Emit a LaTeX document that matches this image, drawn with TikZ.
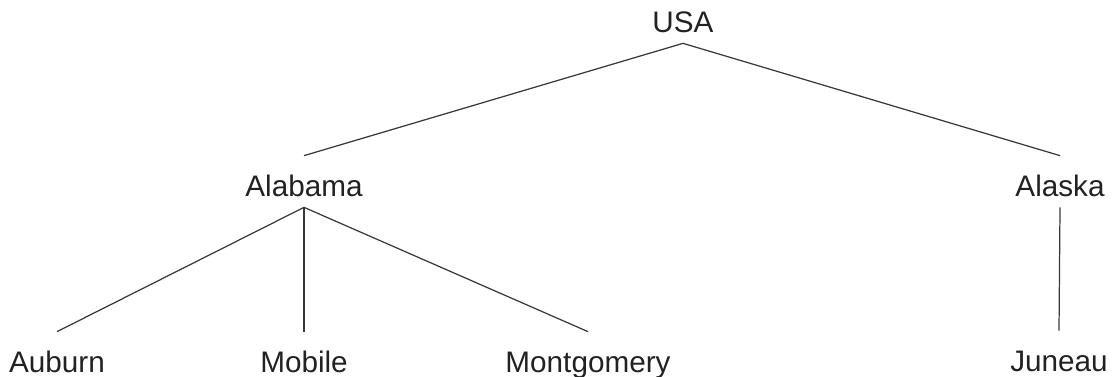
\documentclass[tikz,border=0pt]{standalone}
\usepackage{fontspec}
\setmainfont{Liberation Sans}
\usepackage{tikz}
\definecolor{ink}{HTML}{222222}

\begin{document}
\begin{tikzpicture}[x=0.02cm,y=-0.02cm,place/.style={inner sep=0pt,anchor=base,text height=0.82cm,text depth=0.2cm,font=\fontsize{16.9}{20}\selectfont,text=ink},edge/.style={draw=ink!90,line width=0.7pt}]
    \useasboundingbox (0,0) rectangle (1112,377);
    \node[place] (usa) at (683,33) {USA};
    \node[place] (alabama) at (304,197) {Alabama};
    \node[place] (alaska) at (1060,197) {Alaska};
    \node[place] (auburn) at (57,373) {Auburn};
    \node[place] (mobile) at (304,373) {Mobile};
    \node[place] (montgomery) at (588,373) {Montgomery};
    \node[place] (juneau) at (1059,372) {Juneau};
    \draw[edge] (usa.south)--(alabama.north);
    \draw[edge] (usa.south)--(alaska.north);
    \draw[edge] (alabama.south)--(auburn.north);
    \draw[edge] (alabama.south)--(mobile.north);
    \draw[edge] (alabama.south)--(montgomery.north);
    \draw[edge] (alaska.south)--(juneau.north);
  \end{tikzpicture}
\end{document}
